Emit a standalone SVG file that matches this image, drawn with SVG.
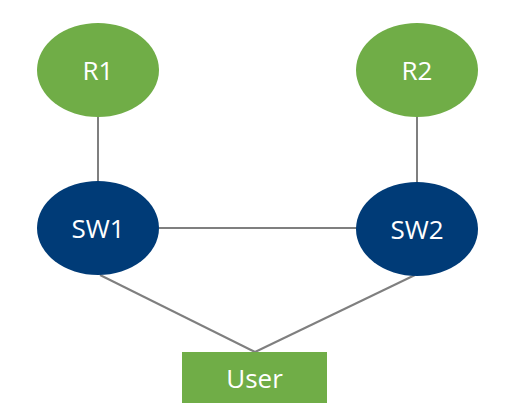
<svg xmlns="http://www.w3.org/2000/svg" width="525" height="420" viewBox="0 0 525 420">
<style>
.g{fill:#70AD47}
.b{fill:#003B77}
.t{font-family:"Open Sans","Liberation Sans",sans-serif;font-size:26px;fill:#fff;text-anchor:middle;dominant-baseline:central}
.c{stroke:#7F7F7F;stroke-width:2;fill:none}
</style>
<rect width="525" height="420" fill="#fff"/>
<g id="connectors">
<line class="c" x1="98" y1="117" x2="98" y2="181"/>
<line class="c" x1="417" y1="117" x2="417" y2="182"/>
<line class="c" x1="159" y1="228" x2="357" y2="228"/>
<line class="c" x1="100" y1="275" x2="255" y2="352"/>
<line class="c" x1="415" y1="275" x2="255" y2="352"/>
</g>
<g id="R1"><ellipse class="g" cx="98" cy="70" rx="61" ry="47"/><text class="t" x="98" y="70">R1</text></g>
<g id="R2"><ellipse class="g" cx="417" cy="70" rx="61" ry="47"/><text class="t" x="417" y="70">R2</text></g>
<g id="SW1"><ellipse class="b" cx="98" cy="228" rx="61" ry="47"/><text class="t" x="98" y="228">SW1</text></g>
<g id="SW2"><ellipse class="b" cx="417" cy="229" rx="61" ry="47"/><text class="t" x="417" y="229">SW2</text></g>
<g id="User"><rect class="g" x="182" y="352" width="145" height="51"/><text class="t" x="254.5" y="378">User</text></g>
</svg>
